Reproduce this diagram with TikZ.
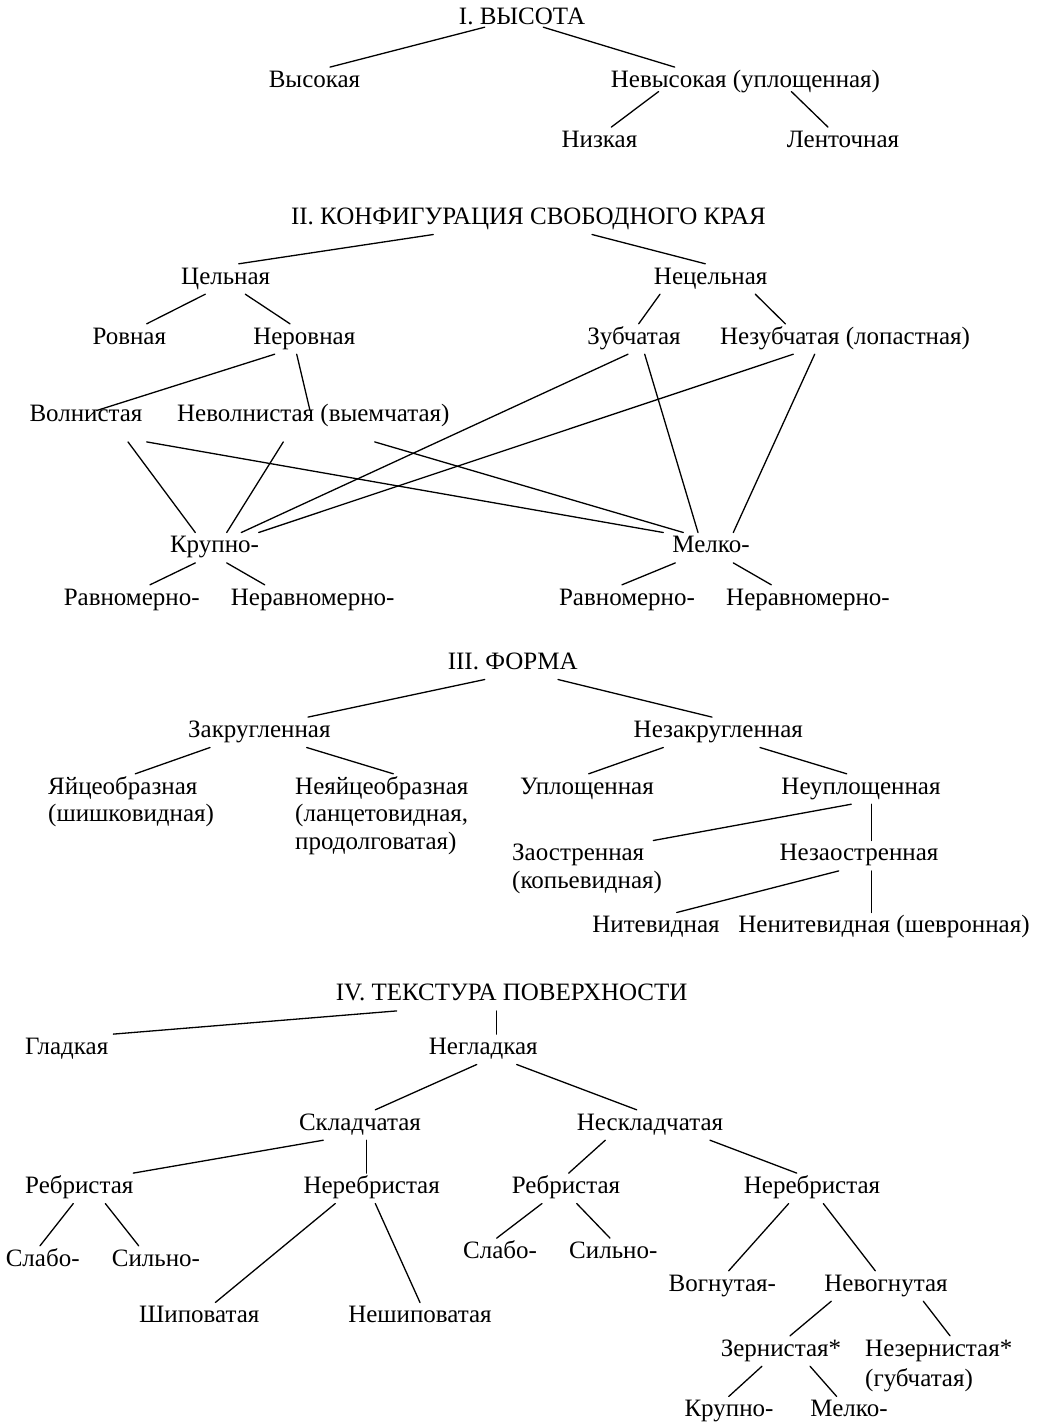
\documentclass[tikz,border=0pt]{standalone}
\usepackage{fontspec}
\setmainfont{Liberation Serif}
\usepackage{tikz}
\usetikzlibrary{positioning}
\tikzstyle{term} = [inner sep=0pt, text height=20pt, text depth=10pt, anchor=base, font=\fontsize{25}{29}\selectfont]
\tikzstyle{termL} = [term, anchor=base west]
\tikzstyle{branch} = [line width=1.3pt, line cap=round]

\begin{document}
\begin{tikzpicture}[x=1pt, y=-1pt]
\useasboundingbox (0,0) rectangle (1037,1422);

% I. Height
\node (h1) [term] at (522,24) {I. ВЫСОТА};
\node (vys) [term] at (314.5,87.3) {Высокая};
\node (nevys) [term] at (745.5,87.3) {Невысокая (уплощенная)};
\node (nizk) [term] at (599.5,147.3) {Низкая};
\node (lent) [term] at (843,147.3) {Ленточная};

\draw[branch] ([xshift=-37.3pt,yshift=7pt]h1.south) -- ([xshift=15.5pt]vys.north);
\draw[branch] ([xshift=21.3pt,yshift=7pt]h1.south) -- ([xshift=-70.8pt]nevys.north);
\draw[branch] ([xshift=-86.8pt,yshift=6pt]nevys.south) -- ([xshift=11.8pt]nizk.north);
\draw[branch] ([xshift=45.8pt,yshift=6pt]nevys.south) -- ([xshift=-15pt]lent.north);

% II. Free edge
\node (h2) [term] at (528.5,224.3) {II. КОНФИГУРАЦИЯ СВОБОДНОГО КРАЯ};
\node (cel) [term] at (225.7,284) {Цельная};
\node (necel) [term] at (710.7,284) {Нецельная};
\node (rov) [term] at (129.3,344) {Ровная};
\node (nerov) [term] at (304.3,344) {Неровная};
\node (zub) [term] at (634,344) {Зубчатая};
\node (nezub) [term] at (845,344) {Незубчатая (лопастная)};
\node (voln) [term] at (86,421.7) {Волнистая};
\node (nevoln) [term] at (313.3,421.7) {Неволнистая (выемчатая)};
\node (krup) [term] at (214.5,552.7) {Крупно-};
\node (melk) [term] at (711,552.7) {Мелко-};
\node (ravA) [term] at (131.7,605) {Равномерно-};
\node (neravA) [term] at (312.7,605) {Неравномерно-};
\node (ravB) [term] at (627,605) {Равномерно-};
\node (neravB) [term] at (808,605) {Неравномерно-};

\draw[branch] ([xshift=-95.2pt]h2.south) -- ([xshift=13pt]cel.north);
\draw[branch] ([xshift=63.5pt]h2.south) -- ([xshift=-5.4pt]necel.north);
\draw[branch] ([xshift=-20.4pt]cel.south) -- ([xshift=17.4pt]rov.north);
\draw[branch] ([xshift=19.6pt]cel.south) -- ([xshift=-14.3pt]nerov.north);
\draw[branch] ([xshift=-50.7pt]necel.south) -- ([xshift=4.7pt]zub.north);
\draw[branch] ([xshift=44.6pt]necel.south) -- ([xshift=-59.7pt]nezub.north);
\draw[branch] ([xshift=-29.6pt]nerov.south) -- ([xshift=10.7pt,yshift=-9pt]voln.north);
\draw[branch] ([xshift=-7.6pt]nerov.south) -- ([xshift=-3.3pt,yshift=-9pt]nevoln.north);
\draw[branch] ([xshift=42pt,yshift=-10pt]voln.south) -- ([xshift=-19.2pt]krup.north);
\draw[branch] ([xshift=60.7pt,yshift=-10pt]voln.south) -- ([xshift=-47.7pt]melk.north);
\draw[branch] ([xshift=-30pt,yshift=-10pt]nevoln.south) -- ([xshift=12.2pt]krup.north);
\draw[branch] ([xshift=61.4pt,yshift=-10pt]nevoln.south) -- ([xshift=-27.7pt]melk.north);
\draw[branch] ([xshift=-6pt]zub.south) -- ([xshift=26.8pt]krup.north);
\draw[branch] ([xshift=10.7pt]zub.south) -- ([xshift=-13pt]melk.north);
\draw[branch] ([xshift=-51.7pt]nezub.south) -- ([xshift=44.2pt]krup.north);
\draw[branch] ([xshift=-30.3pt]nezub.south) -- ([xshift=22.3pt]melk.north);
\draw[branch] ([xshift=-19.2pt]krup.south) -- ([xshift=18.3pt]ravA.north);
\draw[branch] ([xshift=12.2pt]krup.south) -- ([xshift=-48pt]neravA.north);
\draw[branch] ([xshift=-35.7pt]melk.south) -- ([xshift=-5pt]ravB.north);
\draw[branch] ([xshift=22.3pt]melk.south) -- ([xshift=-36.7pt]neravB.north);

% III. Shape
\node (h3) [term] at (512.7,669.3) {III. ФОРМА};
\node (zakr) [term] at (259.3,737.3) {Закругленная};
\node (nezakr) [term] at (718.3,737.3) {Незакругленная};
\node (yaic) [termL] at (48,794) {Яйцеобразная};
\node (yaic2) [termL] at (48,821.7) {(шишковидная)};
\node (neyaic) [termL] at (295,794) {Неяйцеобразная};
\node (neyaic2) [termL] at (295,821.7) {(ланцетовидная,};
\node (neyaic3) [termL] at (295,849.3) {продолговатая)};
\node (upl) [term] at (587,794) {Уплощенная};
\node (neupl) [term] at (861,794) {Неуплощенная};
\node (zaostr) [termL] at (512,860.7) {Заостренная};
\node (zaostr2) [termL] at (512,888.3) {(копьевидная)};
\node (nezaostr) [term] at (859,860.7) {Незаостренная};
\node (nit) [term] at (656,932.7) {Нитевидная};
\node (nenit) [term] at (884,932.7) {Ненитевидная (шевронная)};

\draw[branch] ([xshift=-28pt]h3.south) -- ([xshift=48.7pt]zakr.north);
\draw[branch] ([xshift=45.3pt]h3.south) -- ([xshift=-6.3pt]nezakr.north);
\draw[branch] ([xshift=-49.3pt]zakr.south) -- ([xshift=87.3pt]yaic.north west);
\draw[branch] ([xshift=47.4pt]zakr.south) -- ([xshift=98.3pt]neyaic.north west);
\draw[branch] ([xshift=-55pt]nezakr.south) -- ([xshift=1.7pt]upl.north);
\draw[branch] ([xshift=41.7pt]nezakr.south) -- ([xshift=-14.3pt]neupl.north);
\draw[branch] ([xshift=-9.7pt]neupl.south) -- ([xshift=141.3pt]zaostr.north west);
\draw[branch] ([xshift=10.3pt]neupl.south) -- ([xshift=12.3pt]nezaostr.north);
\draw[branch] ([xshift=-20.3pt]nezaostr.south) -- ([xshift=20.7pt]nit.north);
\draw[branch] ([xshift=12.3pt]nezaostr.south) -- ([xshift=-12.7pt]nenit.north);

% IV. Surface texture
\node (h4) [term] at (511.7,1000.7) {IV. ТЕКСТУРА ПОВЕРХНОСТИ};
\node (glad) [term] at (66.7,1054.3) {Гладкая};
\node (neglad) [term] at (483.3,1054.3) {Негладкая};
\node (skl) [term] at (360,1130) {Складчатая};
\node (neskl) [term] at (650,1130) {Нескладчатая};
\node (rebA) [term] at (79.3,1193.3) {Ребристая};
\node (nerebA) [term] at (371.7,1193.3) {Неребристая};
\node (rebB) [term] at (566,1193.3) {Ребристая};
\node (nerebB) [term] at (812,1193.3) {Неребристая};
\node (slabA) [term] at (42.7,1266) {Слабо-};
\node (silA) [term] at (156,1266) {Сильно-};
\node (slabB) [term] at (500,1258.3) {Слабо-};
\node (silB) [term] at (613.3,1258.3) {Сильно-};
\node (ship) [term] at (199.3,1322.7) {Шиповатая};
\node (neship) [term] at (420,1322.7) {Нешиповатая};
\node (vogn) [term] at (722.3,1291) {Вогнутая-};
\node (nevogn) [term] at (886,1291) {Невогнутая};
\node (zern) [term] at (781,1356) {Зернистая*};
\node (nezern) [termL] at (865,1356) {Незернистая*};
\node (nezern2) [termL] at (865,1386) {(губчатая)};
\node (krupB) [term] at (729,1416.7) {Крупно-};
\node (melkB) [term] at (849,1416.7) {Мелко-};

\draw[branch] ([xshift=-115pt]h4.south) -- ([xshift=46.6pt]glad.north);
\draw[branch] ([xshift=-15pt]h4.south) -- ([xshift=13.4pt]neglad.north);
\draw[branch] ([xshift=-6.6pt]neglad.south) -- ([xshift=15.3pt]skl.north);
\draw[branch] ([xshift=33.4pt]neglad.south) -- ([xshift=-13.3pt]neskl.north);
\draw[branch] ([xshift=-36.7pt]skl.south) -- ([xshift=54pt]rebA.north);
\draw[branch] ([xshift=6.7pt]skl.south) -- ([xshift=-5pt]nerebA.north);
\draw[branch] ([xshift=-44.7pt]neskl.south) -- ([xshift=2.7pt]rebB.north);
\draw[branch] ([xshift=60pt]neskl.south) -- ([xshift=-15.3pt]nerebB.north);
\draw[branch] ([xshift=-6pt]rebA.south) -- ([xshift=-2.7pt]slabA.north);
\draw[branch] ([xshift=26pt]rebA.south) -- ([xshift=-17.3pt]silA.north);
\draw[branch] ([xshift=-36.4pt]nerebA.south) -- ([xshift=16pt]ship.north);
\draw[branch] ([xshift=3.6pt]nerebA.south) -- (neship.north);
\draw[branch] ([xshift=-24pt]rebB.south) -- ([xshift=-3.3pt]slabB.north);
\draw[branch] ([xshift=10.7pt]rebB.south) -- ([xshift=-3.3pt]silB.north);
\draw[branch] ([xshift=-23.3pt]nerebB.south) -- ([xshift=6.4pt]vogn.north);
\draw[branch] ([xshift=11.3pt]nerebB.south) -- ([xshift=-10.7pt]nevogn.north);
\draw[branch] ([xshift=-54.7pt]nevogn.south) -- ([xshift=9pt]zern.north);
\draw[branch] ([xshift=37.3pt]nevogn.south) -- ([xshift=85pt]nezern.north west);
\draw[branch] ([xshift=-19pt]zern.south) -- ([xshift=-0.3pt]krupB.north);
\draw[branch] ([xshift=29pt]zern.south) -- ([xshift=-12.3pt]melkB.north);
\end{tikzpicture}
\end{document}
